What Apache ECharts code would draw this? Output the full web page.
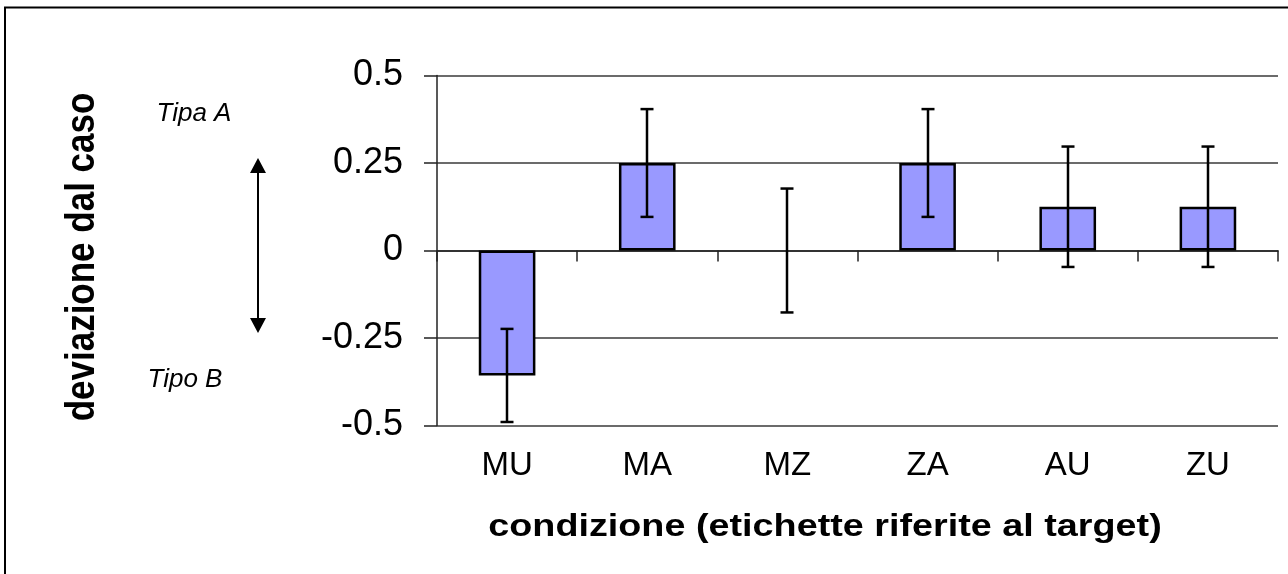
<!DOCTYPE html>
<html>
<head>
<meta charset="utf-8">
<script src="https://cdn.jsdelivr.net/npm/echarts@6/dist/echarts.min.js"></script>
<style>
html,body{margin:0;padding:0;background:#fff;}
#chart{width:1288px;height:574px;}
</style>
</head>
<body>
<div id="chart"></div>
<script>
var categories = ['MU', 'MA', 'MZ', 'ZA', 'AU', 'ZU'];
var means = [-0.357, 0.25, 0, 0.25, 0.125, 0.125];
var errors = [0.133, 0.154, 0.177, 0.154, 0.172, 0.172];
var yTicks = [-0.5, -0.25, 0, 0.25, 0.5];
var xTitle = 'condizione (etichette riferite al target)';
var yTitle = 'deviazione dal caso';
var upperNote = 'Tipa A';
var lowerNote = 'Tipo B';

var FONT = '"Liberation Sans", Arial, sans-serif';
var chart = echarts.init(document.getElementById('chart'));

var barData = means.map(function (v) {
  return v === 0 ? { value: v, itemStyle: { borderWidth: 0 } } : v;
});
var errData = means.map(function (v, i) { return [i, v - errors[i], v + errors[i]]; });

var option = {
  backgroundColor: '#ffffff',
  animation: false,
  grid: { left: 437, right: 10, top: 75.5, bottom: 148.5, containLabel: false },
  xAxis: [
    {
      type: 'category', data: categories, position: 'bottom',
      axisLine: { show: false, onZero: false },
      axisTick: { show: false },
      axisLabel: { color: '#000', fontFamily: FONT, fontSize: 33, margin: 24 },
      splitLine: { show: false }
    },
    {
      type: 'category', data: categories, position: 'bottom',
      axisLine: { show: true, onZero: true, lineStyle: { color: '#222', width: 1.5 } },
      axisTick: { show: true, length: 11, lineStyle: { color: '#222', width: 1.5 } },
      axisLabel: { show: false },
      splitLine: { show: false }
    }
  ],
  yAxis: {
    type: 'value', min: yTicks[0], max: yTicks[yTicks.length - 1], interval: 0.25,
    axisLine: { show: true, onZero: false, lineStyle: { color: '#222', width: 1.5 } },
    axisTick: { show: true, length: 13, lineStyle: { color: '#222', width: 1.5 } },
    axisLabel: { color: '#000', fontFamily: FONT, fontSize: 36, margin: 34 },
    splitLine: { show: true, lineStyle: { color: '#3a3a3a', width: 1.5 } }
  },
  series: [
    {
      type: 'bar', xAxisIndex: 0, data: barData, barWidth: '40.4%',
      itemStyle: { color: '#9999ff', borderColor: '#000', borderWidth: 2.5 },
      z: 2
    },
    {
      type: 'custom', xAxisIndex: 0, data: errData, z: 5,
      renderItem: function (params, api) {
        var x = api.value(0);
        var lo = api.coord([x, api.value(1)]);
        var hi = api.coord([x, api.value(2)]);
        var cx = Math.round(lo[0]);
        var half = 6.5;
        var st = { stroke: '#000', lineWidth: 2.5 };
        return {
          type: 'group',
          children: [
            { type: 'line', shape: { x1: cx, y1: lo[1], x2: cx, y2: hi[1] }, style: st },
            { type: 'line', shape: { x1: cx - half, y1: lo[1], x2: cx + half, y2: lo[1] }, style: st },
            { type: 'line', shape: { x1: cx - half, y1: hi[1], x2: cx + half, y2: hi[1] }, style: st }
          ]
        };
      }
    }
  ],
  graphic: [
    {
      type: 'polyline', silent: true,
      shape: { points: [[5, 574], [5, 7.5], [1288, 7.5]] },
      style: { stroke: '#000', lineWidth: 2, fill: null }
    },
    {
      type: 'text', silent: true, x: 83, y: 257, rotation: Math.PI / 2, scaleY: 1.15,
      style: { text: yTitle, fontFamily: FONT, fontSize: 35, fontWeight: 'bold', fill: '#000',
               align: 'center', verticalAlign: 'middle' }
    },
    {
      type: 'text', silent: true, x: 825, y: 527, scaleX: 1.18,
      style: { text: xTitle, fontFamily: FONT, fontSize: 32, fontWeight: 'bold', fill: '#000',
               align: 'center', verticalAlign: 'middle' }
    },
    {
      type: 'text', silent: true, x: 194, y: 114,
      style: { text: upperNote, fontFamily: FONT, fontSize: 26, fontStyle: 'italic', fill: '#000',
               align: 'center', verticalAlign: 'middle' }
    },
    {
      type: 'text', silent: true, x: 185, y: 380,
      style: { text: lowerNote, fontFamily: FONT, fontSize: 26, fontStyle: 'italic', fill: '#000',
               align: 'center', verticalAlign: 'middle' }
    },
    {
      type: 'line', silent: true,
      shape: { x1: 258, y1: 170, x2: 258, y2: 320 },
      style: { stroke: '#000', lineWidth: 2 }
    },
    {
      type: 'polygon', silent: true,
      shape: { points: [[258, 158], [250, 173], [266, 173]] },
      style: { fill: '#000' }
    },
    {
      type: 'polygon', silent: true,
      shape: { points: [[258, 333], [250, 318], [266, 318]] },
      style: { fill: '#000' }
    }
  ]
};
chart.setOption(option);
</script>
</body>
</html>
